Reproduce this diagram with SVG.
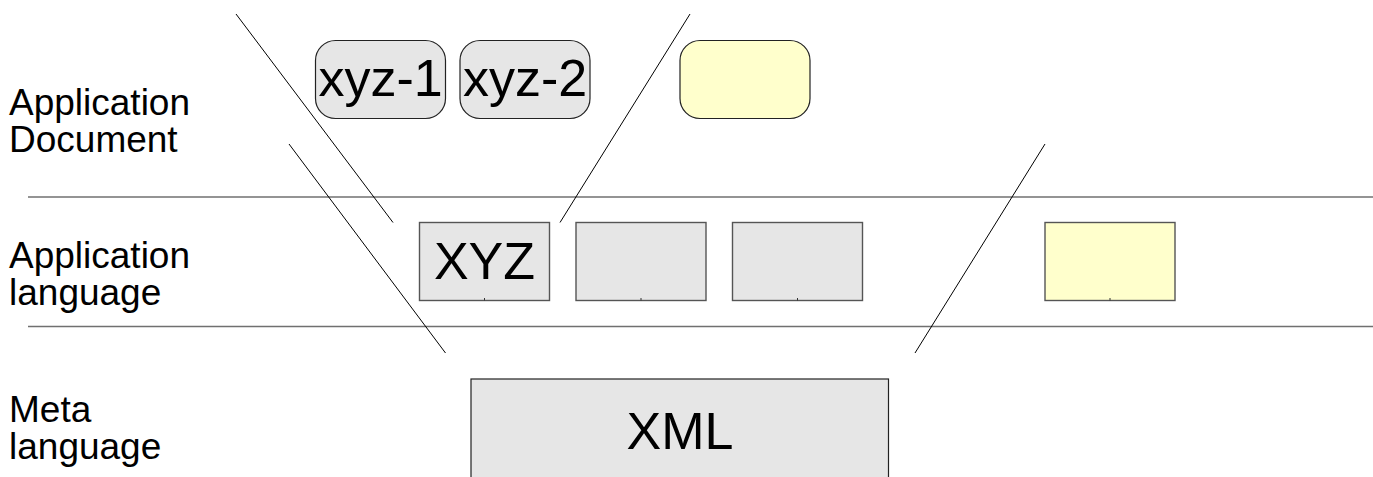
<svg xmlns="http://www.w3.org/2000/svg" width="1373" height="477" viewBox="0 0 1373 477">
<style>
text{font-family:"Liberation Sans",Arial,sans-serif;fill:#000}
.lbl{font-size:37px}
.big{font-size:52px;text-anchor:middle}
.sep{stroke:#707070;stroke-width:1.4;fill:none}
.conn{stroke:#000;stroke-width:1;fill:none}
.rr{stroke:#222;stroke-width:1.2}
.rc{stroke:#555;stroke-width:1.4}
.grey{fill:#e6e6e6}
.yel{fill:#ffffcc}
.tick{stroke:#333;stroke-width:1}
</style>
<rect width="1373" height="477" fill="#fff"/>
<g id="layer-labels">
<text class="lbl" x="9" y="115">Application</text>
<text class="lbl" x="9" y="152">Document</text>
<text class="lbl" x="9" y="268">Application</text>
<text class="lbl" x="9" y="305">language</text>
<text class="lbl" x="9" y="422">Meta</text>
<text class="lbl" x="9" y="459">language</text>
</g>
<g id="separators">
<line class="sep" x1="28" y1="197" x2="1373" y2="197"/>
<line class="sep" x1="28" y1="326.5" x2="1373" y2="326.5"/>
</g>
<g id="connectors">
<line class="conn" x1="236" y1="14" x2="393" y2="222.5"/>
<line class="conn" x1="289" y1="144" x2="445.5" y2="353"/>
<line class="conn" x1="690" y1="14" x2="560" y2="222.5"/>
<line class="conn" x1="1045" y1="144" x2="915" y2="353"/>
</g>
<g id="node-xyz1">
<rect class="rr grey" x="315.5" y="40.5" width="130" height="78" rx="20"/>
<text class="big" x="380.5" y="96">xyz-1</text>
</g>
<g id="node-xyz2">
<rect class="rr grey" x="460" y="40.5" width="130" height="78" rx="20"/>
<text class="big" x="525" y="96">xyz-2</text>
</g>
<g id="node-doc3">
<rect class="rr yel" x="680" y="40.5" width="130" height="78" rx="20"/>
</g>
<g id="node-XYZ">
<rect class="rc grey" x="419.5" y="222.5" width="130" height="78"/>
<line class="tick" x1="484.5" y1="298" x2="484.5" y2="300.5"/>
<text class="big" x="484.5" y="279">XYZ</text>
</g>
<g id="node-lang2">
<rect class="rc grey" x="576" y="222.5" width="130" height="78"/>
<line class="tick" x1="641" y1="298" x2="641" y2="300.5"/>
</g>
<g id="node-lang3">
<rect class="rc grey" x="732.5" y="222.5" width="130" height="78"/>
<line class="tick" x1="797.5" y1="298" x2="797.5" y2="300.5"/>
</g>
<g id="node-lang4">
<rect class="rc yel" x="1045" y="222.5" width="130" height="78"/>
<line class="tick" x1="1110" y1="298" x2="1110" y2="300.5"/>
</g>
<g id="node-XML">
<rect class="rr grey" x="471" y="379" width="417.5" height="110"/>
<text class="big" x="680" y="449">XML</text>
</g>
</svg>
